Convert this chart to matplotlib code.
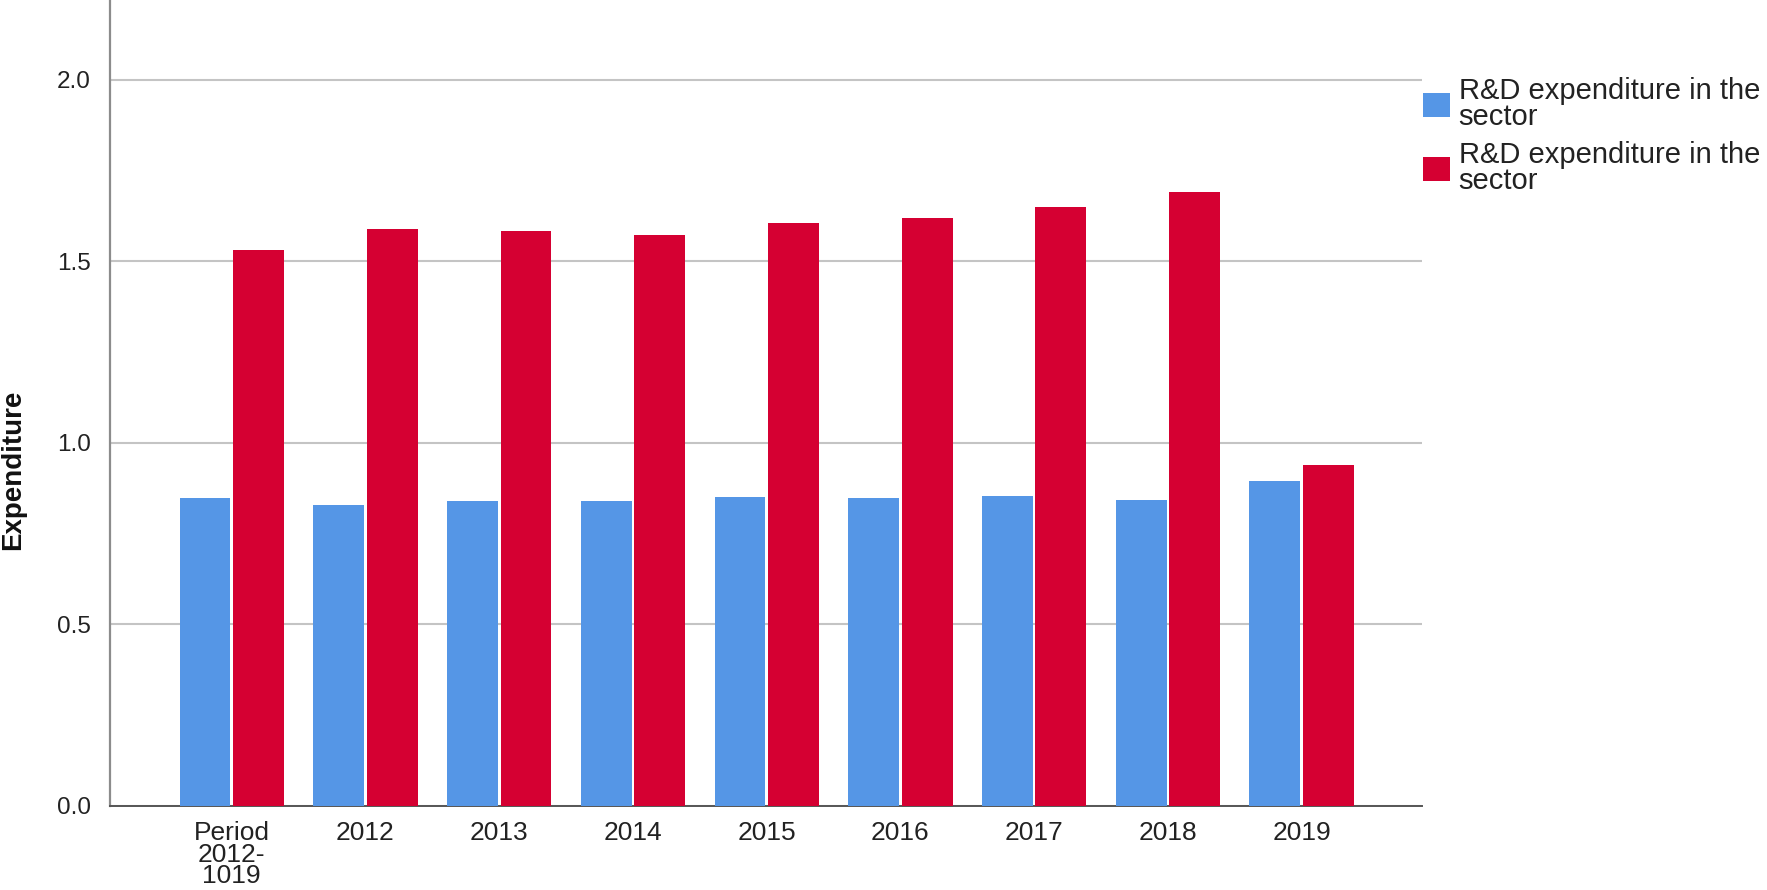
import matplotlib
matplotlib.use('Agg')
import matplotlib.pyplot as plt
import numpy as np

plt.rcParams.update({
    'font.family': ['Liberation Sans', 'DejaVu Sans'],
    'axes.spines.top': False,
    'axes.spines.right': False,
})

# ── Data ───────────────────────────────────────────────────────
categories = ['Period\n2012-\n1019', '2012', '2013', '2014', '2015',
              '2016', '2017', '2018', '2019']
blue_vals = [0.849, 0.829, 0.840, 0.839, 0.851, 0.849, 0.853, 0.842, 0.895]
red_vals = [1.532, 1.590, 1.584, 1.572, 1.607, 1.619, 1.651, 1.691, 0.939]
series_labels = ['R&D expenditure in the\nsector', 'R&D expenditure in the\nsector']
y_ticks = [0.0, 0.5, 1.0, 1.5, 2.0]

C_BLUE = '#5596E6'
C_RED = '#D50032'
TXT = '#222222'

fig = plt.figure(figsize=(17.67, 8.90), dpi=100)
fig.patch.set_facecolor('white')
ax = fig.add_axes([110 / 1767, 1 - 806 / 890, 1312 / 1767, 806 / 890])

x = np.arange(len(categories))
w = 0.38
b1 = ax.bar(x - 0.2, blue_vals, w, color=C_BLUE, label=series_labels[0], zorder=3)
b2 = ax.bar(x + 0.2, red_vals, w, color=C_RED, label=series_labels[1], zorder=3)

ax.set_xlim(-0.91, 8.9)
ax.set_ylim(0, 2.22)
ax.set_yticks(y_ticks)
ax.set_yticklabels([f'{v:.1f}' for v in y_ticks], fontsize=17.5, color=TXT)
ax.set_xticks(x)
ax.set_xticklabels(categories, fontsize=19, color=TXT, linespacing=0.86)
ax.tick_params(axis='both', length=0)
ax.tick_params(axis='y', pad=14)
ax.tick_params(axis='x', pad=11)

ax.yaxis.grid(True, color='#c4c4c4', linewidth=1.5, zorder=0)
ax.set_axisbelow(True)
ax.spines['left'].set_color('#8c8c8c')
ax.spines['left'].set_linewidth(1.6)
ax.spines['bottom'].set_color('#555555')
ax.spines['bottom'].set_linewidth(1.4)

fig.text(13 / 1767, 1 - 470 / 890, 'Expenditure', rotation=90, ha='center',
         va='center', fontsize=20, fontweight='bold', color='#111111')

leg = fig.legend(handles=[b1, b2], labels=series_labels, loc='upper left',
                 bbox_to_anchor=(1423 / 1767, 1 - 77 / 890), frameon=False,
                 fontsize=21, handlelength=0.92, handleheight=0.92,
                 handletextpad=0.3, labelspacing=0.35, borderpad=0,
                 borderaxespad=0)
for t in leg.get_texts():
    t.set_linespacing(0.9)
    t.set_color(TXT)

fig.savefig('out.png', dpi=100, facecolor='white')
plt.close()
